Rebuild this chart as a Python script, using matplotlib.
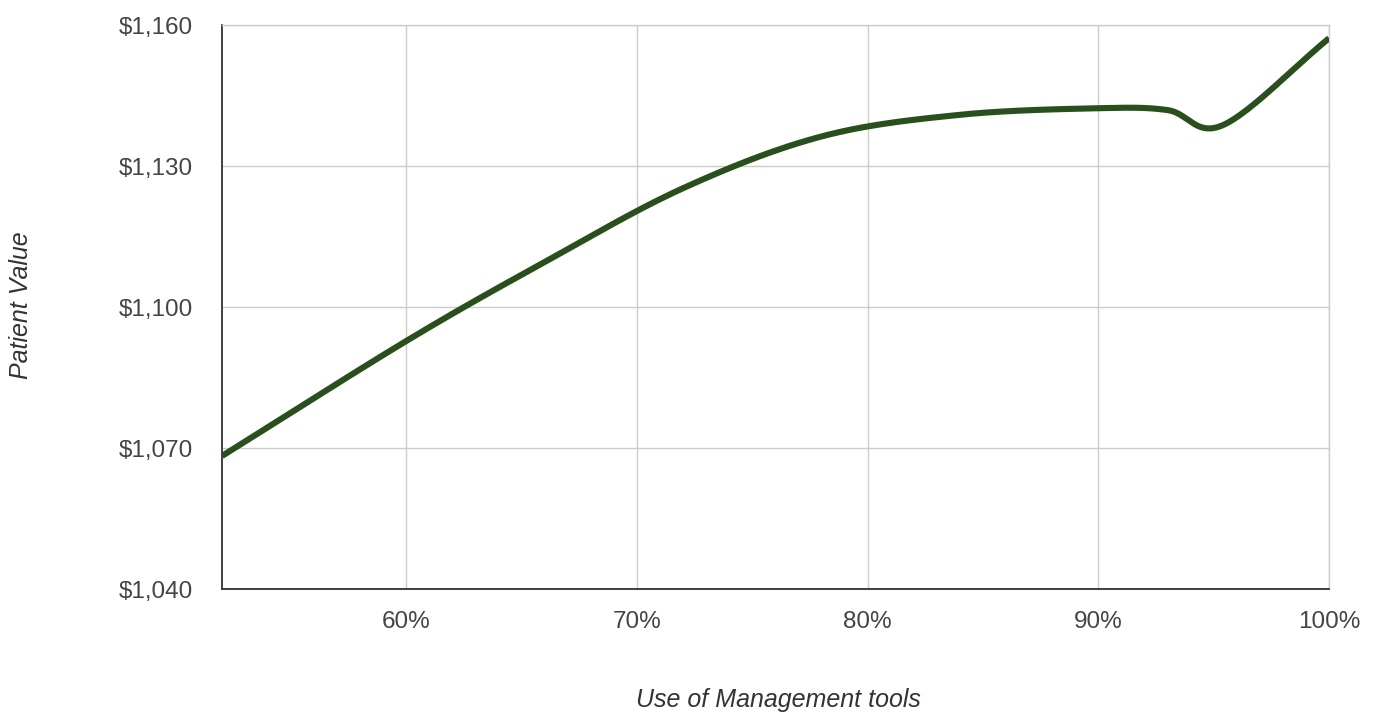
import numpy as np
import matplotlib
matplotlib.use("Agg")
import matplotlib.pyplot as plt
from matplotlib.ticker import FuncFormatter

# Usage share of management tools (%) and the resulting patient value ($)
usage_pct = [52, 60, 66, 72, 78, 84, 90, 93, 95.4, 100]
patient_value = [1068.3, 1092.8, 1109.6, 1125.3, 1136.3, 1140.9, 1142.3, 1141.9, 1138.7, 1157.2]

x_ticks = [60, 70, 80, 90, 100]
y_ticks = [1040, 1070, 1100, 1130, 1160]


def catmull_rom(xs, ys, steps=40):
    """Smooth curve through the given knots (uniform Catmull-Rom)."""
    px = np.asarray(xs, float)
    py = np.asarray(ys, float)
    px = np.concatenate([[2 * px[0] - px[1]], px, [2 * px[-1] - px[-2]]])
    py = np.concatenate([[2 * py[0] - py[1]], py, [2 * py[-1] - py[-2]]])
    out_x, out_y = [], []
    t = np.linspace(0, 1, steps, endpoint=False)
    for i in range(1, len(px) - 2):
        for arr, out in ((px, out_x), (py, out_y)):
            p0, p1, p2, p3 = arr[i - 1], arr[i], arr[i + 1], arr[i + 2]
            out.extend(0.5 * ((2 * p1) + (-p0 + p2) * t
                              + (2 * p0 - 5 * p1 + 4 * p2 - p3) * t ** 2
                              + (-p0 + 3 * p1 - 3 * p2 + p3) * t ** 3))
    out_x.append(xs[-1])
    out_y.append(ys[-1])
    return np.array(out_x), np.array(out_y)


plt.rcParams["font.family"] = ["Liberation Sans", "DejaVu Sans"]

fig = plt.figure(figsize=(13.83, 7.15), dpi=100)
ax = fig.add_axes([0.1605, 0.1762, 0.961 - 0.1605, 0.965 - 0.1762])

sx, sy = catmull_rom(usage_pct, patient_value)
ax.plot(sx, sy, color="#29501c", lw=4.4, solid_capstyle="butt", zorder=3)

ax.set_xlim(usage_pct[0], 100)
ax.set_ylim(1040, 1160)
ax.set_xticks(x_ticks)
ax.set_yticks(y_ticks)
ax.xaxis.set_major_formatter(FuncFormatter(lambda v, _: f"{v:.0f}%"))
ax.yaxis.set_major_formatter(FuncFormatter(lambda v, _: f"${v:,.0f}"))
ax.tick_params(length=0, labelsize=17.5, labelcolor="#444444")
ax.tick_params(axis="x", pad=16)
ax.tick_params(axis="y", pad=21)

ax.grid(True, color="#cccccc", lw=1.0, zorder=0)
for side in ("top", "right"):
    ax.spines[side].set_color("#cccccc")
    ax.spines[side].set_linewidth(1.0)
for side in ("left", "bottom"):
    ax.spines[side].set_color("#333333")
    ax.spines[side].set_linewidth(1.3)

fig.text(0.0155, 0.573, "Patient Value", rotation=90, ha="center", va="center",
         fontsize=18, style="italic", color="#333333")
fig.text(0.5625, 0.021, "Use of Management tools", ha="center", va="center",
         fontsize=18, style="italic", color="#333333")

fig.savefig("out.png", dpi=100, facecolor="white")
